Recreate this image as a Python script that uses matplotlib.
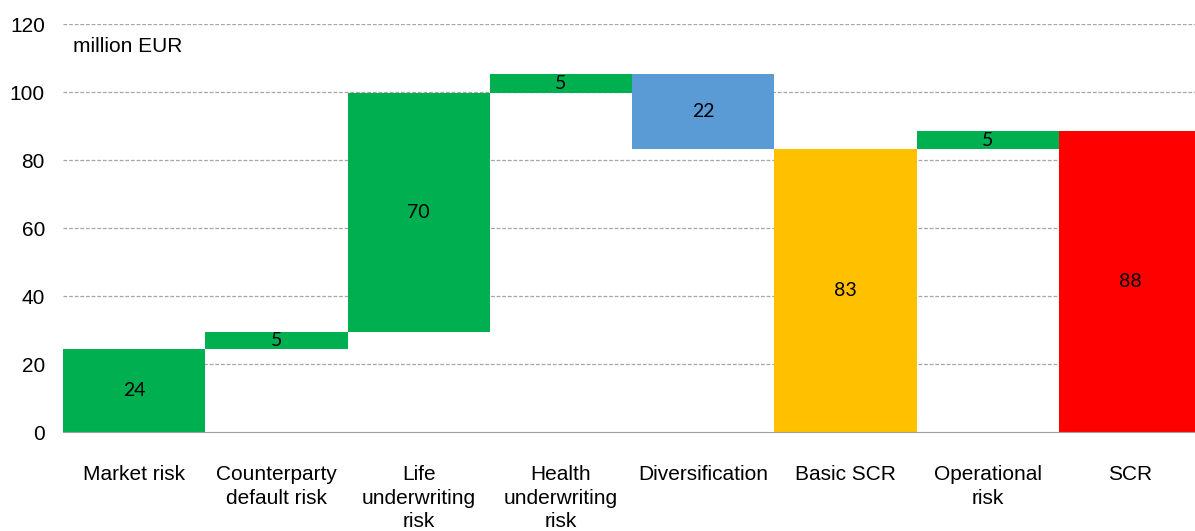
import matplotlib.pyplot as plt

# waterfall of the solvency capital requirement, million EUR
categories = ["Market risk", "Counterparty\ndefault risk", "Life\nunderwriting\nrisk",
              "Health\nunderwriting\nrisk", "Diversification", "Basic SCR",
              "Operational\nrisk", "SCR"]
values = [24.3, 5.1, 70.4, 5.4, -21.9, 83.3, 5.1, 88.4]
labels = ["24", "5", "70", "5", "22", "83", "5", "88"]
is_total = [False, False, False, False, False, True, False, True]
colors = ["#00B050", "#00B050", "#00B050", "#00B050", "#5B9BD5", "#FFC000", "#00B050", "#FF0000"]
yticks = [0, 20, 40, 60, 80, 100, 120]

fig = plt.figure(figsize=(11.95, 5.31), dpi=100)
ax = fig.add_axes([63 / 1195, 99 / 531, 1138 / 1195, 408 / 531])

bottoms = []
heights = []
run = 0
for v, tot in zip(values, is_total):
    if tot:
        bottoms.append(0)
        heights.append(v)
        run = v
    else:
        bottoms.append(run if v >= 0 else run + v)
        heights.append(abs(v))
        run += v

x = list(range(len(categories)))
ax.bar(x, heights, bottom=bottoms, width=1.0, color=colors, zorder=2)

for xi, b, h, lab in zip(x, bottoms, heights, labels):
    ax.text(xi, b + h / 2, lab, ha="center", va="center", fontsize=14,
            family="Lato", color="black", zorder=3)

ax.set_xlim(-0.5, len(categories) - 0.5)
ax.set_ylim(0, 120)
ax.set_yticks(yticks)
for t in yticks[1:]:
    ax.axhline(t, color="#A6A6A6", lw=0.9, ls=(0, (3, 1.5)), zorder=1)

for s in ["top", "right", "left"]:
    ax.spines[s].set_visible(False)
ax.spines["bottom"].set_color("#A0A0A0")
ax.spines["bottom"].set_zorder(3)

ax.set_xticks(x)
ax.set_xticklabels(categories, family="Liberation Sans", fontsize=15, linespacing=1.3, va="top")
ax.tick_params(axis="x", length=0, pad=24)
ax.tick_params(axis="y", length=0, pad=13, labelsize=15)
for lab in ax.get_yticklabels():
    lab.set_family("Liberation Sans")

fig.text(73 / 1195, (531 - 46) / 531, "million EUR", fontsize=15, family="Liberation Sans",
         va="center", ha="left")

fig.savefig("out.png", dpi=100)
